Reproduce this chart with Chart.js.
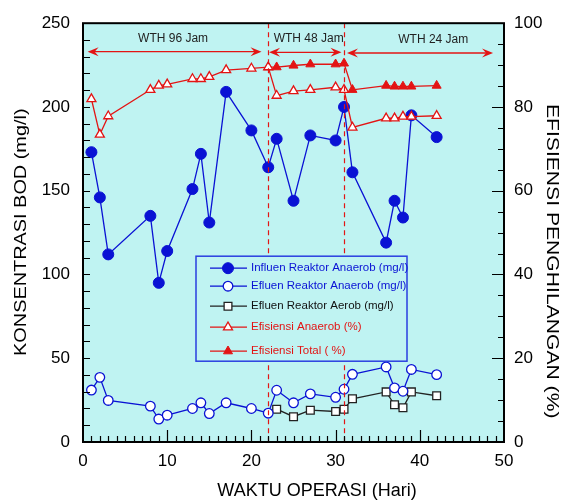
<!DOCTYPE html>
<html>
<head>
<meta charset="utf-8">
<style>
  body { margin: 0; background: #fff; }
  canvas { display: block; }
</style>
<script src="https://cdn.jsdelivr.net/npm/chart.js@4.4.0/dist/chart.umd.min.js"></script>
</head>
<body>
<canvas id="bodChart" width="567" height="500"></canvas>
<script>
// operating days (Hari)
var days = [1, 2, 3, 8, 9, 10, 13, 14, 15, 17, 20, 22, 23, 25, 27, 30, 31, 32, 36, 37, 38, 39, 42];
var daysAerob = [23, 25, 27, 30, 31, 32, 36, 37, 38, 39, 42];
var daysTotal = [22, 23, 25, 27, 30, 31, 32, 36, 37, 38, 39, 42];

// BOD (mg/l)
var influenAnaerob = [173, 146, 112, 135, 95, 114, 151, 172, 131, 209, 186, 164, 181, 144, 183, 180, 200, 161, 119, 144, 134, 195, 182];
var efluenAnaerob = [31, 38.6, 24.8, 21.4, 13.7, 16, 20, 23.4, 17, 23.4, 20, 17.2, 30.9, 23.4, 28.7, 26.7, 31.5, 40.4, 44.8, 32.3, 30.3, 43.3, 40.2];
var efluenAerob = [19.6, 15.1, 19, 18.2, 19.6, 25.8, 29.9, 22.2, 20.4, 29.9, 27.6];

// efisiensi (%)
var efisiensiAnaerob = [81.9, 73.4, 77.8, 84.1, 85.1, 85.4, 86.7, 86.7, 87.2, 88.8, 89.2, 89.5, 82.7, 83.8, 84.1, 84.7, 84.1, 75.1, 77.3, 77.3, 77.7, 77.7, 77.9];
var efisiensiTotal = [89.5, 89.5, 89.9, 90.2, 90.2, 90.4, 84.1, 85.1, 84.9, 84.9, 84.9, 85.1];

// WTH periods
var phaseBounds = [22, 31];
var phaseLabels = ['WTH 96 Jam', 'WTH 48 Jam', 'WTH 24 Jam'];
var phaseLabelX = [10.7, 26.8, 41.6];
var phaseLabelY = [241, 241, 240];
var arrowFrom = [0.55, 22.1, 31.35];
var arrowTo = [21.2, 30.7, 48.7];
var arrowY = [233, 232.6, 232.2];

// axis titles
var xTitle = 'WAKTU OPERASI (Hari)';
var yTitle = 'KONSENTRASI BOD (mg/l)';
var y2Title = 'EFISIENSI PENGHILANGAN (%)';

var blue = '#0a12d4';
var red = '#e31414';
var cyan = '#bff3f2';
var fontFamily = '"Liberation Sans", Arial, sans-serif';

function pts(xs, ys) {
    return xs.map(function (x, i) { return { x: x, y: ys[i] }; });
}

function marker(ctx, style, r, x, y, fill, stroke, bw) {
    ctx.save();
    ctx.beginPath();
    if (style === 'circle') {
        ctx.arc(x, y, r, 0, Math.PI * 2);
    } else if (style === 'rect') {
        var s = r * Math.SQRT1_2;
        ctx.rect(x - s, y - s, 2 * s, 2 * s);
    } else {
        ctx.moveTo(x, y - r);
        ctx.lineTo(x + r * Math.sin(Math.PI * 2 / 3), y - r * Math.cos(Math.PI * 2 / 3));
        ctx.lineTo(x - r * Math.sin(Math.PI * 2 / 3), y - r * Math.cos(Math.PI * 2 / 3));
        ctx.closePath();
    }
    ctx.fillStyle = fill;
    ctx.fill();
    ctx.lineWidth = bw;
    ctx.strokeStyle = stroke;
    ctx.stroke();
    ctx.restore();
}

function arrowHead(ctx, x, y, dir) {
    ctx.beginPath();
    ctx.moveTo(x, y);
    ctx.lineTo(x - dir * 11, y - 4.5);
    ctx.lineTo(x - dir * 7, y);
    ctx.lineTo(x - dir * 11, y + 4.5);
    ctx.closePath();
    ctx.fill();
}

// text stretched along its own direction (the original titles are wide)
function wideText(ctx, text, x, y, rot, size, stretch) {
    ctx.save();
    ctx.translate(x, y);
    ctx.rotate(rot);
    ctx.scale(stretch, 1);
    ctx.font = size + 'px ' + fontFamily;
    ctx.fillStyle = '#000';
    ctx.textAlign = 'center';
    ctx.textBaseline = 'middle';
    ctx.fillText(text, 0, 0);
    ctx.restore();
}

var decor = {
    id: 'decor',
    beforeDraw: function (chart) {
        var ca = chart.chartArea, ctx = chart.ctx;
        ctx.save();
        ctx.fillStyle = cyan;
        ctx.fillRect(ca.left, ca.top, ca.right - ca.left, ca.bottom - ca.top);
        ctx.restore();
    },
    afterDatasetsDraw: function (chart) {
        var ca = chart.chartArea, ctx = chart.ctx;
        var sx = chart.scales.x, sy = chart.scales.y, sy2 = chart.scales.y2;
        ctx.save();

        // period boundaries
        ctx.strokeStyle = red;
        ctx.lineWidth = 1.2;
        ctx.setLineDash([5, 4]);
        phaseBounds.forEach(function (d) {
            var px = Math.round(sx.getPixelForValue(d)) + 0.5;
            ctx.beginPath();
            ctx.moveTo(px, ca.top);
            ctx.lineTo(px, ca.bottom);
            ctx.stroke();
        });
        ctx.setLineDash([]);

        // arrows + labels
        ctx.fillStyle = red;
        ctx.lineWidth = 1.3;
        for (var i = 0; i < phaseLabels.length; i++) {
            var x1 = sx.getPixelForValue(arrowFrom[i]);
            var x2 = sx.getPixelForValue(arrowTo[i]);
            var ay = sy.getPixelForValue(arrowY[i]);
            ctx.beginPath();
            ctx.moveTo(x1 + 6, ay);
            ctx.lineTo(x2 - 6, ay);
            ctx.stroke();
            arrowHead(ctx, x1, ay, -1);
            arrowHead(ctx, x2, ay, 1);
        }
        ctx.fillStyle = '#222';
        ctx.font = '12px ' + fontFamily;
        ctx.textAlign = 'center';
        ctx.textBaseline = 'middle';
        for (var j = 0; j < phaseLabels.length; j++) {
            ctx.fillText(phaseLabels[j], sx.getPixelForValue(phaseLabelX[j]), sy.getPixelForValue(phaseLabelY[j]));
        }

        // frame and inward ticks
        ctx.strokeStyle = '#000';
        ctx.lineWidth = 2;
        ctx.strokeRect(ca.left, ca.top, ca.right - ca.left, ca.bottom - ca.top);
        ctx.lineWidth = 1.2;
        ctx.beginPath();
        for (var d = 1; d < 50; d++) {
            var tx = Math.round(sx.getPixelForValue(d)) + 0.5;
            ctx.moveTo(tx, ca.bottom);
            ctx.lineTo(tx, ca.bottom - (d % 10 === 0 ? 12 : 6));
        }
        for (var v = 10; v < 250; v += 10) {
            var ty = Math.round(sy.getPixelForValue(v)) + 0.5;
            ctx.moveTo(ca.left, ty);
            ctx.lineTo(ca.left + 7, ty);
        }
        for (var p = 5; p < 100; p += 5) {
            var ty2 = Math.round(sy2.getPixelForValue(p)) + 0.5;
            ctx.moveTo(ca.right, ty2);
            ctx.lineTo(ca.right - (p % 20 === 0 ? 12 : 6), ty2);
        }
        ctx.stroke();

        // legend box
        var lx = ca.left + 113, ly = ca.top + 233, lw = 211, lh = 105;
        ctx.fillStyle = cyan;
        ctx.fillRect(lx, ly, lw, lh);
        ctx.strokeStyle = '#2a3ee0';
        ctx.lineWidth = 1.5;
        ctx.strokeRect(lx, ly, lw, lh);
        var rows = [12, 30, 50, 71, 95];
        var textColors = [blue, blue, '#111', red, red];
        ctx.font = '11.5px ' + fontFamily;
        ctx.textAlign = 'left';
        chart.data.datasets.forEach(function (ds, k) {
            var ry = ly + rows[k];
            ctx.strokeStyle = ds.borderColor;
            ctx.lineWidth = 1.3;
            ctx.beginPath();
            ctx.moveTo(lx + 14, ry);
            ctx.lineTo(lx + 51, ry);
            ctx.stroke();
            marker(ctx, ds.pointStyle, ds.pointRadius, lx + 32, ry, ds.pointBackgroundColor, ds.pointBorderColor, ds.pointBorderWidth);
            ctx.fillStyle = textColors[k];
            ctx.fillText(ds.label, lx + 55, ry);
        });

        // axis titles
        wideText(ctx, xTitle, ca.left + 234, ca.bottom + 49, 0, 18, 1);
        wideText(ctx, yTitle, ca.left - 62, ca.top + 209, -Math.PI / 2, 17, 1.17);
        wideText(ctx, y2Title, ca.right + 48, ca.top + 238, Math.PI / 2, 16.5, 1.28);
        ctx.restore();
    }
};

var tickFont = { family: fontFamily, size: 17 };

new Chart(document.getElementById('bodChart'), {
    type: 'line',
    data: {
        datasets: [{
            label: 'Influen Reaktor Anaerob (mg/l)',
            data: pts(days, influenAnaerob),
            yAxisID: 'y',
            order: 2,
            borderColor: blue,
            borderWidth: 1.3,
            pointStyle: 'circle',
            pointRadius: 5.5,
            pointBackgroundColor: blue,
            pointBorderColor: blue,
            pointBorderWidth: 1
        }, {
            label: 'Efluen Reaktor Anaerob (mg/l)',
            data: pts(days, efluenAnaerob),
            yAxisID: 'y',
            order: 3,
            borderColor: blue,
            borderWidth: 1.3,
            pointStyle: 'circle',
            pointRadius: 4.8,
            pointBackgroundColor: '#fff',
            pointBorderColor: blue,
            pointBorderWidth: 1.3
        }, {
            label: 'Efluen Reaktor Aerob (mg/l)',
            data: pts(daysAerob, efluenAerob),
            yAxisID: 'y',
            order: 4,
            borderColor: '#222',
            borderWidth: 1.3,
            pointStyle: 'rect',
            pointRadius: 5.5,
            pointBackgroundColor: '#fff',
            pointBorderColor: '#222',
            pointBorderWidth: 1.3
        }, {
            label: 'Efisiensi Anaerob (%)',
            data: pts(days, efisiensiAnaerob),
            yAxisID: 'y2',
            order: 0,
            borderColor: red,
            borderWidth: 1.3,
            pointStyle: 'triangle',
            pointRadius: 5.2,
            pointBackgroundColor: '#fff',
            pointBorderColor: red,
            pointBorderWidth: 1.3
        }, {
            label: 'Efisiensi Total ( %)',
            data: pts(daysTotal, efisiensiTotal),
            yAxisID: 'y2',
            order: 1,
            borderColor: red,
            borderWidth: 1.3,
            pointStyle: 'triangle',
            pointRadius: 5.2,
            pointBackgroundColor: red,
            pointBorderColor: red,
            pointBorderWidth: 1
        }]
    },
    options: {
        responsive: false,
        animation: false,
        layout: { padding: { top: 20 } },
        plugins: {
            legend: { display: false },
            tooltip: { enabled: false }
        },
        scales: {
            x: {
                type: 'linear',
                min: 0,
                max: 50,
                grid: { display: false, drawTicks: false },
                border: { display: false },
                ticks: { stepSize: 10, padding: 9, color: '#000', font: tickFont },
                afterFit: function (s) { s.height = 58; }
            },
            y: {
                position: 'left',
                min: 0,
                max: 250,
                grid: { display: false, drawTicks: false },
                border: { display: false },
                ticks: { stepSize: 50, padding: 13, color: '#000', font: tickFont },
                afterFit: function (s) { s.width = 83; }
            },
            y2: {
                position: 'right',
                min: 0,
                max: 100,
                grid: { display: false, drawTicks: false },
                border: { display: false },
                ticks: { stepSize: 20, padding: 10, color: '#000', font: tickFont },
                afterFit: function (s) { s.width = 63; }
            }
        }
    },
    plugins: [decor]
});
</script>
</body>
</html>
